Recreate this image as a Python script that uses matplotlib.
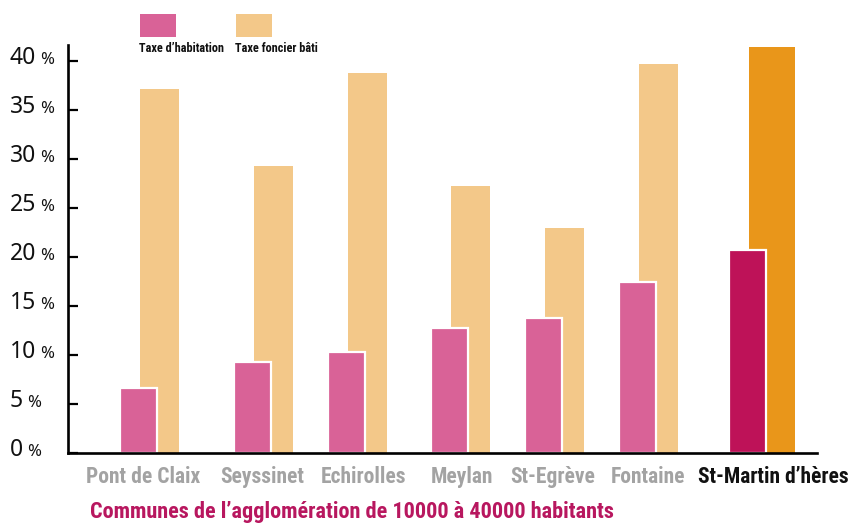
import matplotlib
matplotlib.use("Agg")
import matplotlib.pyplot as plt
import matplotlib.font_manager as fm
from matplotlib.patches import Rectangle

# ---------------- data ----------------
communes = ["Pont de Claix", "Seyssinet", "Echirolles", "Meylan",
            "St-Egrève", "Fontaine", "St-Martin d’hères"]
taxe_habitation = [6.6, 9.3, 10.3, 12.7, 13.8, 17.4, 20.7]
taxe_foncier_bati = [37.1, 29.3, 38.7, 27.2, 22.9, 39.7, 41.4]
y_ticks = [0, 5, 10, 15, 20, 25, 30, 35, 40]
series_names = ["Taxe d’habitation", "Taxe foncier bâti"]
title = "Communes de l’agglomération de 10000 à 40000 habitants"

# ---------------- layout / style ----------------
W, H = 849, 524
group_x = [52, 166, 260, 363, 457, 551, 661]   # left edge of each group (axis units)
label_shift = [-6, -1, 6, 1, -2, -1, 11]         # small label nudges (axis units)
pink_w = 37
orange_off = 20
orange_w = [39, 39, 39, 39, 39, 39, 46]
highlight = 6

pink = "#d96297"
orange = "#f3c889"
pink_hi = "#be1258"
orange_hi = "#e9961a"
grey = "#a3a3a3"
magenta = "#b8175f"

names = {f.name for f in fm.fontManager.ttflist}
cond_font = None
for n in ["Roboto Condensed", "Liberation Sans Narrow", "DejaVu Sans Condensed"]:
    if n in names:
        cond_font = n
        break
cond_kw = dict(family=[cond_font or "DejaVu Sans", "DejaVu Sans"])
if cond_font is None:
    cond_kw["fontstretch"] = "condensed"
num_font = ["Noto Sans", "DejaVu Sans"]

fig = plt.figure(figsize=(W / 100, H / 100), dpi=100)
ax_l, ax_r, ax_t, ax_b = 68, 817, 45, 453
ax = fig.add_axes([ax_l / W, 1 - ax_b / H, (ax_r - ax_l) / W, (ax_b - ax_t) / H])
px_per_unit = 9.81
ax.set_xlim(0, ax_r - ax_l)
ax.set_ylim(0, (ax_b - ax_t) / px_per_unit)

for i in range(len(communes)):
    hi = i == highlight
    ax.bar(group_x[i] + orange_off, taxe_foncier_bati[i], width=orange_w[i], align="edge",
           color=orange_hi if hi else orange, linewidth=0, zorder=2)
    ax.bar(group_x[i], taxe_habitation[i], width=pink_w, align="edge",
           color=pink_hi if hi else pink, edgecolor="white", linewidth=1.6, zorder=3)

for s in ["top", "right"]:
    ax.spines[s].set_visible(False)
ax.spines["left"].set_linewidth(1.9)
ax.spines["bottom"].set_linewidth(1.9)
ax.spines["left"].set_zorder(5)
ax.spines["bottom"].set_zorder(5)
ax.set_xticks([])
ax.set_yticks(y_ticks)
ax.tick_params(axis="y", direction="in", length=7.5, width=1.6, labelleft=False)

# y tick labels: big number + small "%"
fig.canvas.draw()
renderer = fig.canvas.get_renderer()
for v in y_ticks:
    ypix = ax.transData.transform((0, v))[1]  # display coords
    yfig = (ypix - 3) / H
    t = fig.text(10 / W, yfig, f"{v}", fontsize=16.5, family=num_font,
                 ha="left", va="baseline", color="#111111")
    bb = t.get_window_extent(renderer)
    fig.text((bb.x1 + 4) / W, yfig, "%", fontsize=12, family=num_font,
             ha="left", va="baseline", color="#111111")

# x category labels
for i, c in enumerate(communes):
    hi = i == highlight
    cx = group_x[i] + (orange_off + orange_w[i]) / 2 + label_shift[i]
    ax.annotate(c, xy=(cx, 0), xycoords=("data", "axes fraction"),
                xytext=(0, -17.5), textcoords="offset points",
                ha="center", va="center", fontsize=15.5, fontweight="bold",
                color="#111111" if hi else grey, annotation_clip=False, **cond_kw)

# title
fig.text(90 / W, 1 - 512 / H, title, fontsize=16, fontweight="bold", color=magenta,
         ha="left", va="center", **cond_kw)

# legend
for (x0, col, name) in [(140, pink, series_names[0]), (236, orange, series_names[1])]:
    fig.patches.append(Rectangle((x0 / W, 1 - 37 / H), 36 / W, 23 / H,
                                 transform=fig.transFigure, facecolor=col,
                                 edgecolor="none"))
    fig.text((x0 - 1) / W, 1 - 48 / H, name, fontsize=8.8, fontweight="bold",
             color="#111111", ha="left", va="center", **cond_kw)

fig.savefig("out.png", dpi=100)
